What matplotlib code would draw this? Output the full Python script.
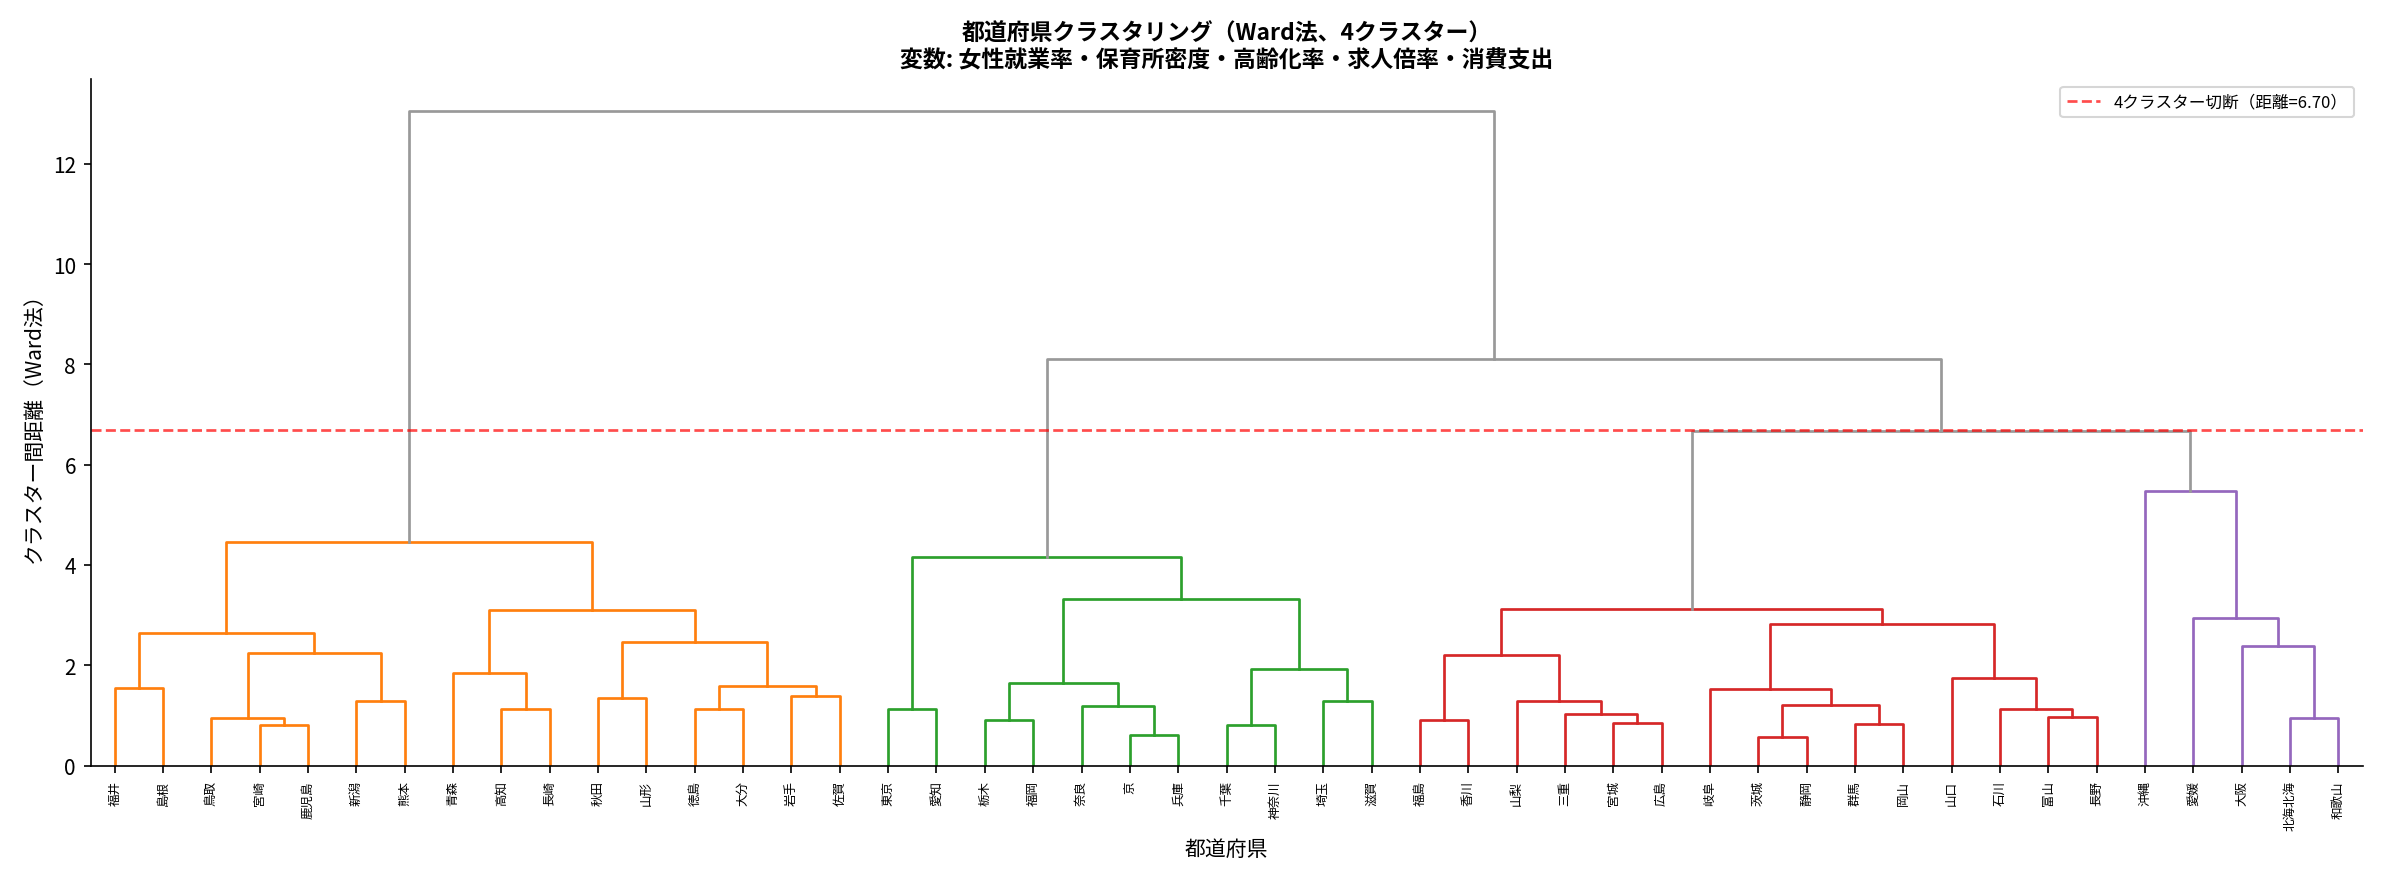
import matplotlib
matplotlib.use('Agg')
import matplotlib.pyplot as plt

plt.rcParams['font.family'] = ['Noto Sans CJK JP', 'DejaVu Sans']

# nested tree: (left, right, height); leaves are strings
orange = (
    (('福井', '島根', 1.55),
     (('鳥取', ('宮崎', '鹿児島', 0.80), 0.95), ('新潟', '熊本', 1.28), 2.25), 2.65),
    (('青森', ('高知', '長崎', 1.12), 1.85),
     (('秋田', '山形', 1.35), (('徳島', '大分', 1.13), ('岩手', '佐賀', 1.38), 1.58), 2.47), 3.10),
    4.45)
green = (
    ('東京', '愛知', 1.12),
    ((('栃木', '福岡', 0.90), ('奈良', ('京', '兵庫', 0.60), 1.18), 1.65),
     (('千葉', '神奈川', 0.80), ('埼玉', '滋賀', 1.28), 1.92), 3.32),
    4.15)
red = (
    (('福島', '香川', 0.90), ('山梨', ('三重', ('宮城', '広島', 0.85), 1.03), 1.28), 2.20),
    (('岐阜', (('茨城', '静岡', 0.57), ('群馬', '岡山', 0.82), 1.20), 1.52),
     ('山口', ('石川', ('富山', '長野', 0.97), 1.12), 1.75), 2.83),
    3.12)
purple = ('沖縄', ('愛媛', ('大阪', ('北海北海', '和歌山', 0.95), 2.38), 2.95), 5.47)
top = (orange, ((green), (red, purple, 6.68), 8.10), 13.05)
cluster_colors = [(orange, '#ff7f0e'), (green, '#2ca02c'), (red, '#d62728'), (purple, '#9467bd')]
cut = 6.70

fig, ax = plt.subplots(figsize=(15.9, 5.893), dpi=150)
labels = []


def draw(node, color):
    if isinstance(node, str):
        x = 5 + 10 * len(labels)
        labels.append(node)
        return x, 0.0
    for sub, c in cluster_colors:
        if node is sub:
            color = c
    l, r, h = node
    xl, hl = draw(l, color)
    xr, hr = draw(r, color)
    ax.plot([xl, xl, xr, xr], [hl, h, h, hr], color=color, lw=1.3)
    return (xl + xr) / 2, h


draw(top, '#999999')
ax.axhline(cut, color='red', ls='--', alpha=0.7, lw=1.3, label=f'4クラスター切断（距離={cut:.2f}）')
ax.set_xticks([5 + 10 * i for i in range(len(labels))])
ax.set_xticklabels(labels, rotation=90, fontsize=6)
ax.set_xlim(0, 10 * len(labels))
ax.set_ylim(0, 13.7)
ax.spines['top'].set_visible(False)
ax.spines['right'].set_visible(False)
ax.set_xlabel('都道府県', fontsize=10)
ax.set_ylabel('クラスター間距離（Ward法）', fontsize=10)
ax.set_title('都道府県クラスタリング（Ward法、4クラスター）\n変数: 女性就業率・保育所密度・高齢化率・求人倍率・消費支出',
             fontsize=11, fontweight='bold')
ax.legend(loc='upper right', fontsize=8)
plt.tight_layout()
plt.savefig('out.png', dpi=150)
